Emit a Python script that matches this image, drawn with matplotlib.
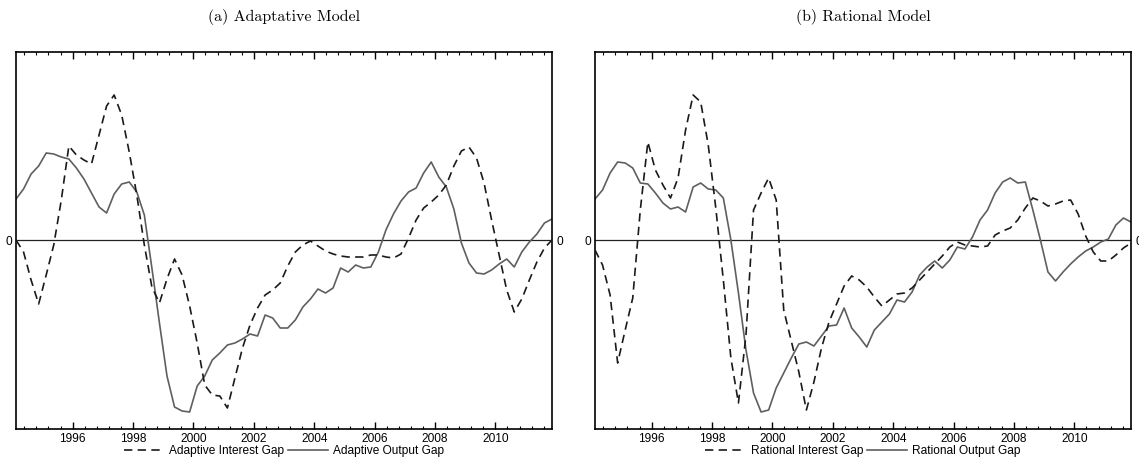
import numpy as np
import matplotlib
matplotlib.use("Agg")
import matplotlib.pyplot as plt
from matplotlib.ticker import MultipleLocator

# quarterly observations, 1994Q1 - 2011Q4 (plotted at mid quarter)
dates = 1994.125 + 0.25 * np.arange(72)

# gaps in arbitrary units (only the zero line is labelled)
adaptive_interest = [
    0, -12, -40, -64, -35, -5, 40, 94, 85, 80,
    76, 105, 134, 145, 125, 88, 45, -5, -47, -63,
    -39, -19, -35, -66, -103, -145, -155, -156, -168, -138,
    -108, -85, -68, -55, -50, -43, -26, -12, -5, -1,
    -6, -11, -14, -16, -17, -17, -17, -15, -15, -17,
    -18, -14, 2, 20, 32, 38, 45, 55, 74, 89,
    93, 82, 57, 20, -15, -50, -72, -59, -40, -22,
    -8, 0]
adaptive_output = [
    41, 51, 66, 74, 87, 86, 83, 81, 72, 61,
    47, 33, 27, 46, 56, 58, 48, 25, -28, -83,
    -136, -167, -171, -172, -146, -136, -120, -113, -105, -103,
    -99, -94, -96, -75, -78, -88, -88, -80, -67, -59,
    -49, -53, -48, -28, -32, -25, -28, -27, -12, 10,
    26, 39, 48, 52, 67, 78, 63, 53, 31, -3,
    -23, -33, -34, -30, -24, -19, -27, -12, -2, 6,
    17, 21]
rational_interest = [
    -10, -25, -55, -123, -90, -58, 30, 98, 70, 55,
    42, 62, 110, 145, 138, 95, 32, -40, -118, -163,
    -95, 30, 47, 62, 40, -70, -101, -132, -170, -142,
    -108, -82, -64, -46, -36, -40, -47, -57, -66, -60,
    -54, -53, -48, -40, -32, -24, -16, -7, -2, -5,
    -6, -7, -6, 5, 9, 12, 20, 32, 42, 39,
    34, 36, 39, 40, 26, 4, -12, -21, -21, -15,
    -8, -3]
rational_output = [
    41, 50, 67, 78, 77, 72, 57, 56, 47, 37,
    31, 33, 28, 53, 57, 51, 50, 42, 0, -53,
    -110, -153, -172, -170, -148, -133, -118, -104, -102, -106,
    -96, -86, -85, -68, -88, -97, -107, -90, -82, -74,
    -60, -62, -52, -35, -27, -21, -28, -20, -7, -9,
    3, 20, 30, 47, 58, 62, 57, 58, 30, 0,
    -32, -41, -32, -24, -17, -11, -7, -2, 1, 15,
    22, 18]

panels = [
    ("(a) Adaptative Model", adaptive_interest, adaptive_output,
     "Adaptive Interest Gap", "Adaptive Output Gap"),
    ("(b) Rational Model", rational_interest, rational_output,
     "Rational Interest Gap", "Rational Output Gap"),
]

plt.rcParams['font.family'] = ['Liberation Sans', 'DejaVu Sans']

fig = plt.figure(figsize=(11.39, 4.62), dpi=100)
lefts = [16 / 1139, 595 / 1139]

for left, (title, rate, gap, rate_lab, gap_lab) in zip(lefts, panels):
    ax = fig.add_axes([left, 33 / 462, 536 / 1139, 377 / 462])
    ax.axhline(0, color='#222222', lw=0.9, zorder=1)
    ax.plot(dates, rate, color='#1a1a1a', lw=1.2, dashes=(5, 3.2),
            label=rate_lab, zorder=3)
    ax.plot(dates, gap, color='#5f5f5f', lw=1.2, label=gap_lab, zorder=2)

    ax.set_xlim(dates[0], dates[-1])
    ax.set_ylim(-189, 188)
    ax.xaxis.set_major_locator(MultipleLocator(2))
    ax.xaxis.set_minor_locator(MultipleLocator(0.4))
    ax.tick_params(axis='x', which='major', direction='in', length=5,
                   width=1, top=True, labelsize=8.6, pad=3)
    ax.tick_params(axis='x', which='minor', direction='in', length=2.5,
                   width=0.8, top=True)
    ax.set_yticks([0])
    ax.tick_params(axis='y', length=0, left=True, right=True,
                   labelleft=True, labelright=True, labelsize=8.6, pad=3)
    for sp in ax.spines.values():
        sp.set_linewidth(1.2)

    fig.text(left + 268 / 1139, 1 - 17 / 462, title, family='cmr10',
             fontsize=11.5, ha='center', va='center')

    ax.legend(loc='center', bbox_to_anchor=(0.5, -0.058), ncol=2,
              frameon=False, fontsize=8.6, handlelength=3.4,
              handletextpad=0.4, columnspacing=0.3, borderpad=0)

fig.savefig('out.png', dpi=100)
